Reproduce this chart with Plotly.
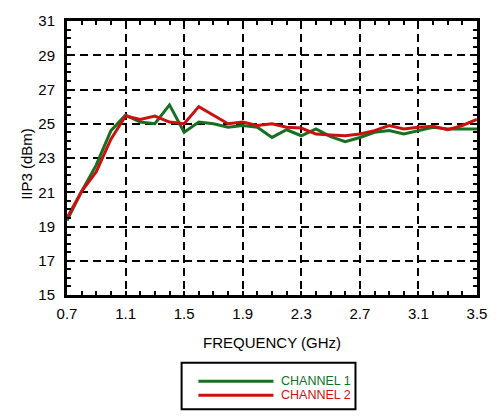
import plotly.graph_objects as go

# Frequency sweep (GHz) and measured input third-order intercept (dBm)
freq_ghz = [0.7, 0.8, 0.9, 1.0, 1.1, 1.2, 1.3, 1.4, 1.5, 1.6, 1.7, 1.8, 1.9, 2.0,
            2.1, 2.2, 2.3, 2.4, 2.5, 2.6, 2.7, 2.8, 2.9, 3.0, 3.1, 3.2, 3.3, 3.4, 3.5]
iip3_ch1 = [19.35, 21.05, 22.6, 24.6, 25.5, 25.1, 25.0, 26.1, 24.5, 25.1, 25.0, 24.8, 24.9, 24.8,
            24.2, 24.65, 24.3, 24.7, 24.25, 23.95, 24.2, 24.5, 24.6, 24.4, 24.6, 24.8, 24.7, 24.7, 24.7]
iip3_ch2 = [19.5, 21.05, 22.2, 24.1, 25.45, 25.25, 25.45, 25.1, 25.0, 26.0, 25.5, 25.0, 25.1, 24.9,
            25.0, 24.8, 24.75, 24.4, 24.35, 24.3, 24.4, 24.6, 24.9, 24.7, 24.8, 24.85, 24.65, 24.9, 25.25]

series_names = ["CHANNEL 1", "CHANNEL 2"]
series_colors = ["#17701f", "#cc1010"]

x_ticks = [0.7, 1.1, 1.5, 1.9, 2.3, 2.7, 3.1, 3.5]
y_ticks = [15, 17, 19, 21, 23, 25, 27, 29, 31]

W, H = 499, 416
L, R, T, B = 67, 17, 12, 121
FONT = "Liberation Sans, Arial, Helvetica, sans-serif"


def px_x(px):
    return (px - L) / (W - L - R)


def px_y(py):
    return (H - B - py) / (H - B - T)


fig = go.Figure()
for name, ys, col in zip(series_names, [iip3_ch1, iip3_ch2], series_colors):
    fig.add_trace(go.Scatter(x=freq_ghz, y=ys, mode="lines", name=name,
                             line=dict(color=col, width=3), showlegend=False))

axis_common = dict(
    showline=True, linecolor="black", linewidth=3, mirror="ticks",
    ticks="inside", ticklen=4, tickwidth=2, tickcolor="black",
    showgrid=True, gridcolor="black", gridwidth=2, griddash="8px,5px",
    zeroline=False, tickfont=dict(family=FONT, size=15, color="black"),
)

fig.update_xaxes(range=[0.7, 3.5], tickvals=x_ticks, ticktext=[f"{v:.1f}" for v in x_ticks],
                 minor=dict(dtick=0.1, tick0=0.7, ticks="inside", ticklen=4, tickwidth=2,
                            tickcolor="black", showgrid=False),
                 title=dict(text="FREQUENCY (GHz)", font=dict(family=FONT, size=15, color="black"),
                            standoff=17),
                 ticklabelstandoff=3, **axis_common)
fig.update_yaxes(range=[15, 31], tickvals=y_ticks, ticktext=[str(v) for v in y_ticks],
                 minor=dict(dtick=0.5, tick0=15, ticks="inside", ticklen=4, tickwidth=2,
                            tickcolor="black", showgrid=False),
                 ticklabelstandoff=6, **axis_common)

# Y-axis title
fig.add_annotation(text="IIP3 (dBm)", textangle=-90, xref="paper", yref="paper",
                   x=px_x(26), y=px_y(159), xanchor="center", yanchor="middle",
                   showarrow=False, font=dict(family=FONT, size=15, color="black"))

# Boxed legend below the plot
fig.add_shape(type="rect", xref="paper", yref="paper",
              x0=px_x(183), x1=px_x(359), y0=px_y(365), y1=px_y(413),
              line=dict(color="black", width=2), fillcolor="white")
for name, col, ly in zip(series_names, series_colors, [384.0, 398.5]):
    fig.add_shape(type="line", xref="paper", yref="paper",
                  x0=px_x(200), x1=px_x(276), y0=px_y(ly), y1=px_y(ly),
                  line=dict(color=col, width=3))
    fig.add_annotation(text=name, xref="paper", yref="paper", x=px_x(283), y=px_y(ly),
                       xanchor="left", yanchor="middle", showarrow=False, borderpad=0,
                       font=dict(family=FONT, size=12.5, color=col))

fig.update_layout(width=W, height=H, margin=dict(l=L, r=R, t=T, b=B),
                  paper_bgcolor="white", plot_bgcolor="white", showlegend=False)

fig.write_html("out.html")
